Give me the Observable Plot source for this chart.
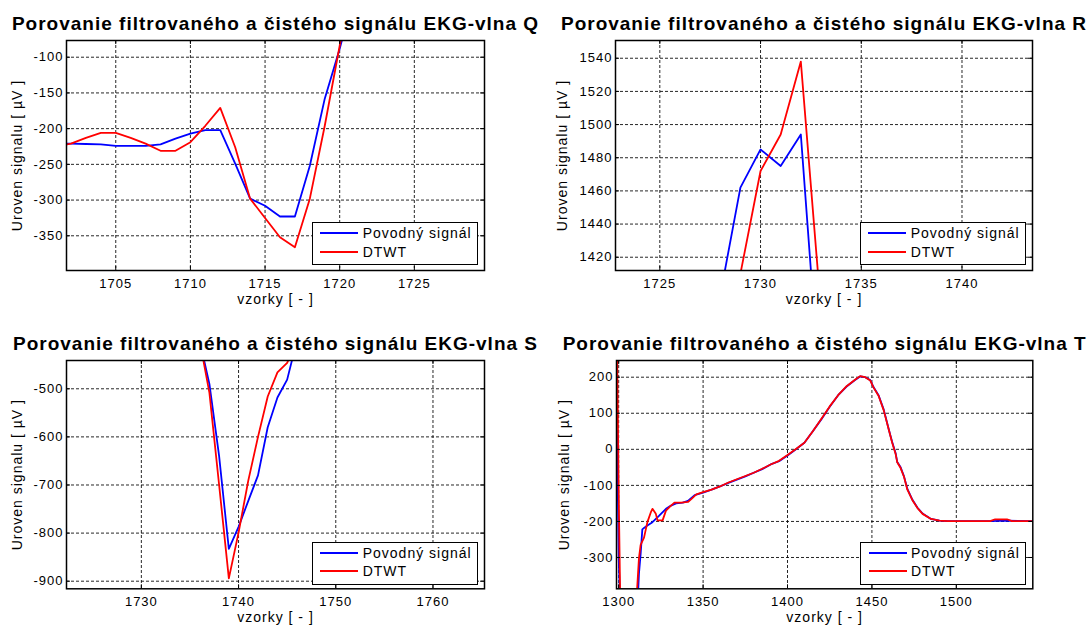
<!DOCTYPE html>
<html>
<head>
<meta charset="utf-8">
<script src="https://cdn.jsdelivr.net/npm/d3@7"></script>
<script src="https://cdn.jsdelivr.net/npm/@observablehq/plot@0.6"></script>
<style>
html, body { margin: 0; padding: 0; background: #fff; }
#root { position: relative; width: 1087px; height: 628px; overflow: hidden; font-family: "Liberation Sans", Arial, sans-serif; }
.panel { position: absolute; }
.legend { position: absolute; background: #fff; border: 1.5px solid #000; box-sizing: border-box; font-size: 14px; letter-spacing: 1px; color: #000; }
.legend .sw { position: absolute; left: 7.8px; width: 38px; height: 2px; }
.legend .lb { position: absolute; left: 50px; height: 16px; line-height: 16px; white-space: nowrap; }
</style>
</head>
<body>
<div id="root"></div>
<script>
// ---------- texts ----------
const titles = [
  "Porovanie filtrovaného a čistého signálu EKG-vlna Q",
  "Porovanie filtrovaného a čistého signálu EKG-vlna R",
  "Porovanie filtrovaného a čistého signálu EKG-vlna S",
  "Porovanie filtrovaného a čistého signálu EKG-vlna T"
];
const xLabel = "vzorky [ - ]";
const yLabel = "Uroven signalu [ µV ]";
const seriesNames = ["Povodný signál", "DTWT"];
const seriesColors = ["#0000ff", "#ff0000"];

// ---------- Q wave ----------
const qSamples = [1701,1702,1703,1704,1705,1706,1707,1708,1709,1710,1711,1712,1713,1714,1715,1716,1717,1718,1719,1720,1721];
const qPovodny = [-221,-221,-221.5,-222,-224,-224,-224,-222,-214,-207,-202,-202,-249,-298,-308,-323,-323,-252,-158,-88,-10];
const qDtwt    = [-225,-221,-213,-206,-206,-213,-221,-231,-231,-219,-196,-171,-226,-298,-325,-352,-366,-298,-196,-84,20];
const qXTicks = [1705,1710,1715,1720,1725];
const qYTicks = [-350,-300,-250,-200,-150,-100];

// ---------- R wave ----------
const rSamples = [1727,1728,1729,1730,1731,1732,1733,1734];
const rPovodny = [1330,1397,1462,1485,1475,1494,1330,1250];
const rDtwt    = [1280,1345,1410,1472,1494,1538,1388,1300];
const rXTicks = [1725,1730,1735,1740];
const rYTicks = [1420,1440,1460,1480,1500,1520,1540];

// ---------- S wave ----------
const sSamples = [1736,1737,1738,1739,1740,1741,1742,1743,1744,1745,1746];
const sPovodny = [-400,-490,-640,-833,-787,-733,-680,-580,-518,-481,-400];
const sDtwt    = [-400,-508,-700,-894,-799,-691,-600,-516,-466,-446,-400];
const sXTicks = [1730,1740,1750,1760];
const sYTicks = [-900,-800,-700,-600,-500];

// ---------- T wave ----------
const tSamplesP = [1299,1300,1301,1311,1312,1313,1314,1315,1317,1320,1324,1328,1331,1334,1338,1341,1345,1350,1355,1360,1365,1370,1375,1380,1385,1390,1395,1400,1405,1410,1415,1420,1425,1430,1435,1440,1443,1446,1449,1451,1454,1457,1460,1462,1464,1465,1467,1469,1471,1474,1477,1480,1485,1490,1495,1500,1510,1520,1530,1545];
const tPovodny  = [52,-300,-450,-450,-345,-290,-222,-218,-211,-202,-184,-165,-156,-150,-148,-143,-127,-120,-112,-103,-93,-84,-75,-65,-55,-42,-33,-17,0,18,50,83,118,150,174,192,202,200,192,172,149,110,55,20,-10,-35,-50,-75,-110,-140,-162,-178,-193,-198,-199,-199,-199,-199,-198,-199];
const tSamplesD = [1299,1300,1301,1310,1311,1312,1313,1315,1317,1319,1320,1322,1323,1326,1328,1331,1333,1337,1341,1343,1346,1350,1355,1360,1365,1370,1375,1380,1385,1390,1395,1400,1405,1410,1415,1420,1425,1430,1435,1440,1443,1446,1449,1451,1454,1457,1460,1462,1464,1465,1467,1469,1471,1474,1477,1480,1485,1490,1495,1500,1510,1520,1523,1530,1533,1545];
const tDtwt     = [300,-120,-450,-450,-380,-302,-265,-245,-202,-175,-165,-179,-197,-197,-170,-156,-148,-148,-146,-138,-125,-119,-112,-103,-92,-83,-74,-65,-54,-42,-32,-16,1,18,50,84,119,150,175,193,203,200,191,171,148,108,54,18,-12,-36,-52,-76,-112,-141,-163,-179,-193,-198,-199,-199,-199,-199,-194,-194,-199,-199];
const tXTicks = [1300,1350,1400,1450,1500];
const tYTicks = [-300,-200,-100,0,100,200];

const toRows = (xs, ys) => xs.map((x, i) => ({x, y: ys[i]}));

const panels = [
  {left: 0, top: 0, width: 543, height: 318, margin: {top: 40, right: 59, bottom: 48, left: 66},
   xDomain: [1701.7, 1729.7], yDomain: [-398.6, -76.6], xTicks: qXTicks, yTicks: qYTicks,
   xP: qSamples, yP: qPovodny, xD: qSamples, yD: qDtwt, title: titles[0], yLabelDx: -49, legendBottom: 5},
  {left: 545, top: 0, width: 542, height: 318, margin: {top: 40, right: 55, bottom: 48, left: 70},
   xDomain: [1722.8, 1743.5], yDomain: [1412, 1550.7], xTicks: rXTicks, yTicks: rYTicks,
   xP: rSamples, yP: rPovodny, xD: rSamples, yD: rDtwt, title: titles[1], yLabelDx: -53, legendBottom: 5},
  {left: 0, top: 318, width: 543, height: 310, margin: {top: 42, right: 59, bottom: 39.7, left: 66},
   xDomain: [1722.3, 1765.3], yDomain: [-915.8, -441.2], xTicks: sXTicks, yTicks: sYTicks,
   xP: sSamples, yP: sPovodny, xD: sSamples, yD: sDtwt, title: titles[2], yLabelDx: -49, legendBottom: 3.5},
  {left: 545, top: 318, width: 542, height: 310, margin: {top: 42, right: 54.7, bottom: 39.7, left: 71},
   xDomain: [1298.7, 1545.3], yDomain: [-386.8, 246.3], xTicks: tXTicks, yTicks: tYTicks,
   xP: tSamplesP, yP: tPovodny, xD: tSamplesD, yD: tDtwt, title: titles[3], yLabelDx: -51.5, legendBottom: 3.5}
];

const root = document.getElementById("root");
const fmt = d => String(d);

for (const p of panels) {
  const plotW = p.width - p.margin.left - p.margin.right;
  const plotH = p.height - p.margin.top - p.margin.bottom;
  const grid = {stroke: "#000", strokeOpacity: 0.85, strokeWidth: 1, strokeDasharray: "3,2"};
  const chart = Plot.plot({
    width: p.width,
    height: p.height,
    marginTop: p.margin.top,
    marginRight: p.margin.right,
    marginBottom: p.margin.bottom,
    marginLeft: p.margin.left,
    x: {domain: p.xDomain},
    y: {domain: p.yDomain},
    style: "font-family: 'Liberation Sans', Arial, sans-serif; font-size: 13px; letter-spacing: 1px; color: #000; background: transparent; overflow: visible;",
    marks: [
      Plot.gridX(p.xTicks, grid),
      Plot.gridY(p.yTicks, grid),
      Plot.line(toRows(p.xP, p.yP), {x: "x", y: "y", stroke: seriesColors[0], strokeWidth: 1.8, clip: true}),
      Plot.line(toRows(p.xD, p.yD), {x: "x", y: "y", stroke: seriesColors[1], strokeWidth: 1.8, clip: true}),
      Plot.tickX(p.xTicks, {x: d => d, insetTop: plotH - 4, stroke: "#000"}),
      Plot.tickX(p.xTicks, {x: d => d, insetBottom: plotH - 4, stroke: "#000"}),
      Plot.tickY(p.yTicks, {y: d => d, insetRight: plotW - 4, stroke: "#000"}),
      Plot.tickY(p.yTicks, {y: d => d, insetLeft: plotW - 4, stroke: "#000"}),
      Plot.frame({stroke: "#000", strokeWidth: 1.5}),
      Plot.axisX({ticks: p.xTicks, tickSize: 0, tickPadding: 8, tickFormat: fmt, label: null, fontSize: 13, fill: "#000"}),
      Plot.axisY({ticks: p.yTicks, tickSize: 0, tickPadding: 3, tickFormat: fmt, label: null, fontSize: 13, fill: "#000"}),
      Plot.text([p.title], {text: d => d, frameAnchor: "top", textAnchor: "middle", dy: -11, lineAnchor: "bottom", fontSize: 19, fontWeight: "bold", fill: "#000"}),
      Plot.text([xLabel], {text: d => d, frameAnchor: "bottom", textAnchor: "middle", dy: 33.5, fontSize: 14, fill: "#000"}),
      Plot.text([yLabel], {text: d => d, frameAnchor: "left", textAnchor: "middle", lineAnchor: "middle", rotate: -90, dx: p.yLabelDx, fontSize: 14, fill: "#000"})
    ]
  });
  const div = document.createElement("div");
  div.className = "panel";
  div.style.left = p.left + "px";
  div.style.top = p.top + "px";
  div.style.width = p.width + "px";
  div.style.height = p.height + "px";
  div.appendChild(chart);
  root.appendChild(div);

  // legend box (bottom-right inside the axes)
  const lw = 166, lh = 43;
  const leg = document.createElement("div");
  leg.className = "legend";
  leg.style.width = lw + "px";
  leg.style.height = lh + "px";
  leg.style.left = (p.left + p.width - p.margin.right - 6.3 - lw) + "px";
  leg.style.top = (p.top + p.height - p.margin.bottom - p.legendBottom - lh) + "px";
  const rowsY = [10.2, 28.5];
  seriesNames.forEach((name, i) => {
    const sw = document.createElement("div");
    sw.className = "sw";
    sw.style.top = (rowsY[i] - 1) + "px";
    sw.style.background = seriesColors[i];
    const lb = document.createElement("div");
    lb.className = "lb";
    lb.style.top = (rowsY[i] - 8) + "px";
    lb.textContent = name;
    leg.appendChild(sw);
    leg.appendChild(lb);
  });
  root.appendChild(leg);
}
</script>
</body>
</html>
